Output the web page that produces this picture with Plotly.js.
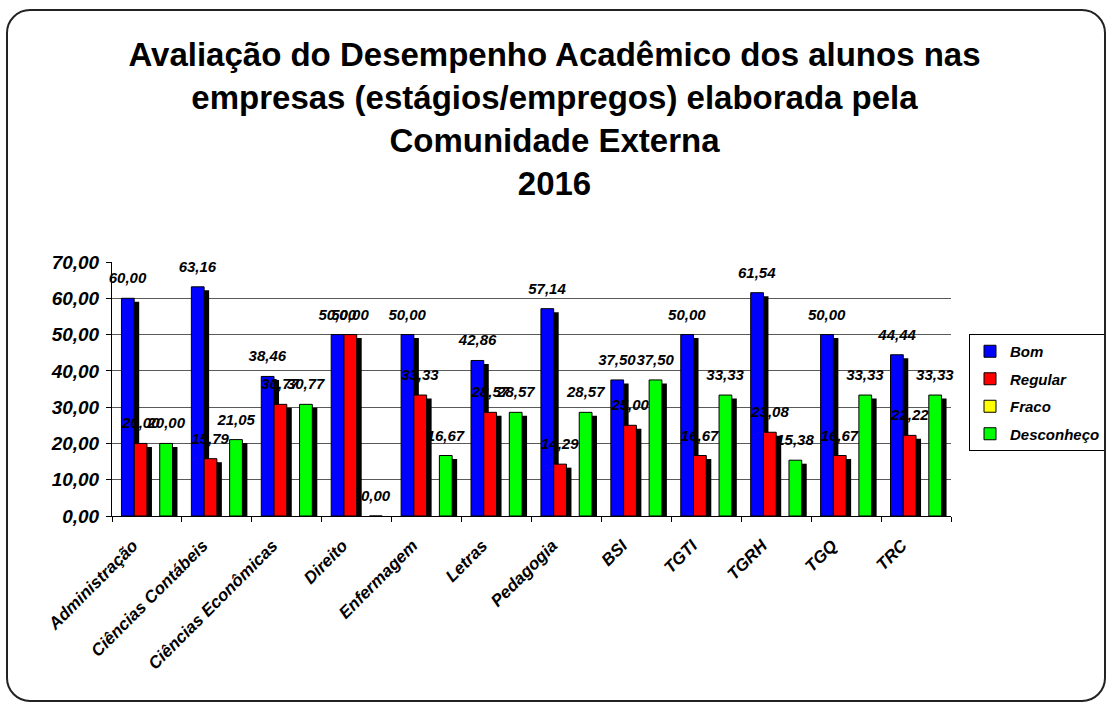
<!DOCTYPE html>
<html>
<head>
<meta charset="utf-8">
<script src="https://cdn.plot.ly/plotly-3.0.1.min.js"></script>
<style>
  html, body { margin: 0; padding: 0; background: #fff; }
  #wrap { position: relative; width: 1109px; height: 704px; overflow: hidden; }
  #chart { position: absolute; left: 0; top: 0; width: 1109px; height: 704px; }
  #frame { position: absolute; left: 6px; top: 9px; width: 1096px; height: 689px;
           border: 2px solid #222; border-radius: 24px; pointer-events: none; }
</style>
</head>
<body>
<div id="wrap">
  <div id="chart"></div>
  <div id="frame"></div>
</div>
<script>
// ---- data ----
const categories = ["Administração", "Ciências Contábeis", "Ciências Econômicas", "Direito",
  "Enfermagem", "Letras", "Pedagogia", "BSI", "TGTI", "TGRH", "TGQ", "TRC"];
const bom        = [60.00, 63.16, 38.46, 50.00, 50.00, 42.86, 57.14, 37.50, 50.00, 61.54, 50.00, 44.44];
const regular    = [20.00, 15.79, 30.77, 50.00, 33.33, 28.57, 14.29, 25.00, 16.67, 23.08, 16.67, 22.22];
const fraco      = [null, null, null, null, null, null, null, null, null, null, null, null];
const desconheco = [20.00, 21.05, 30.77, 0.00, 16.67, 28.57, 28.57, 37.50, 33.33, 15.38, 33.33, 33.33];
const seriesNames = ["Bom", "Regular", "Fraco", "Desconheço"];
const seriesColors = ["#0000FF", "#FF0000", "#FFFF00", "#00FF00"];
const seriesValues = [bom, regular, fraco, desconheco];
const yTickVals = [0, 10, 20, 30, 40, 50, 60, 70];

// ---- geometry helpers (pixel offsets for shadow & label lift) ----
const W = 1109, H = 704;
const M = { l: 112, r: 158, t: 262, b: 188, autoexpand: false };
const plotW = W - M.l - M.r, plotH = H - M.t - M.b;
const xUnit = plotW / categories.length;     // px per category
const yUnit = plotH / 70;                    // px per value unit
const shadowDx = 5 / xUnit, shadowDy = 3.5 / yUnit;
const labelLift = 9 / yUnit;

const FONT = "Liberation Sans, Arial, sans-serif";
const traces = [];

// shadows (main x/y, shifted ranges)
seriesValues.forEach((vals, i) => {
  traces.push({
    type: "bar", x: categories, y: vals, xaxis: "x", yaxis: "y",
    marker: { color: "#000000", line: { width: 0 } },
    showlegend: false, hoverinfo: "skip"
  });
});
// coloured bars (x2/y2, true ranges)
seriesValues.forEach((vals, i) => {
  traces.push({
    type: "bar", name: seriesNames[i], x: categories, y: vals, xaxis: "x2", yaxis: "y2",
    marker: { color: seriesColors[i], line: { color: "#000000", width: 1 } },
    legendgroup: "g" + i, showlegend: true
  });
});
// value labels (x3/y3, lifted)
seriesValues.forEach((vals, i) => {
  traces.push({
    type: "bar", x: categories, y: vals, xaxis: "x3", yaxis: "y3",
    marker: { color: "rgba(0,0,0,0)", line: { width: 0 } },
    texttemplate: "%{y:.2f}", textposition: "outside", constraintext: "none",
    cliponaxis: false,
    textfont: { family: FONT, size: 15, color: "#000", weight: "bold", style: "italic" },
    showlegend: false, hoverinfo: "skip"
  });
});

const hidden = { visible: false, showgrid: false, zeroline: false, fixedrange: true };

const layout = {
  width: W, height: H,
  margin: M,
  paper_bgcolor: "#ffffff", plot_bgcolor: "#ffffff",
  separators: ",.",
  barmode: "group", bargap: 0.27, bargroupgap: 0,
  font: { family: FONT, color: "#000" },
  title: {
    text: "Avaliação do Desempenho Acadêmico dos alunos nas<br>empresas (estágios/empregos) elaborada pela<br>Comunidade Externa<br>2016",
    font: { family: FONT, size: 33, color: "#000", weight: "bold" },
    x: 0.5, xanchor: "center", xref: "container",
    y: 1 - 66 / H, yanchor: "top", yref: "container"
  },
  xaxis: Object.assign({}, hidden, { type: "category", range: [-0.5 - shadowDx, categories.length - 0.5 - shadowDx] }),
  yaxis: Object.assign({}, hidden, { range: [0 + shadowDy, 70 + shadowDy] }),
  xaxis2: {
    type: "category", overlaying: "x", anchor: "y2", side: "bottom",
    range: [-0.5, categories.length - 0.5],
    showline: true, linecolor: "#000", linewidth: 1,
    ticks: "outside", tickson: "boundaries", ticklen: 5, tickcolor: "#000",
    tickangle: -45, showgrid: false, zeroline: false, automargin: false,
    ticklabelstandoff: 12, ticklabelshift: -14,
    tickfont: { family: FONT, size: 17, color: "#000", weight: "bold", style: "italic" }
  },
  yaxis2: {
    overlaying: "y", anchor: "x2", side: "left",
    range: [0, 70], tickvals: yTickVals, tickformat: ".2f",
    showline: true, linecolor: "#000", linewidth: 1,
    ticks: "outside", ticklen: 5, tickcolor: "#000",
    showgrid: true, gridcolor: "#5a5a5a", gridwidth: 1, zeroline: false, automargin: false,
    ticklabelstandoff: 3,
    tickfont: { family: FONT, size: 19, color: "#000", weight: "bold", style: "italic" }
  },
  xaxis3: Object.assign({}, hidden, { type: "category", overlaying: "x", range: [-0.5, categories.length - 0.5] }),
  yaxis3: Object.assign({}, hidden, { overlaying: "y", range: [0 - labelLift, 70 - labelLift] }),
  legend: {
    x: (969 - M.l) / plotW, xanchor: "left",
    y: (H - M.b - 334) / plotH, yanchor: "top",
    bgcolor: "#fff", bordercolor: "#000", borderwidth: 1,
    traceorder: "grouped", tracegroupgap: 5, itemwidth: 30,
    font: { family: FONT, size: 15, color: "#000", weight: "bold", style: "italic" }
  },
  showlegend: true
};

Plotly.newPlot("chart", traces, layout, { displayModeBar: false, staticPlot: true });
</script>
</body>
</html>
